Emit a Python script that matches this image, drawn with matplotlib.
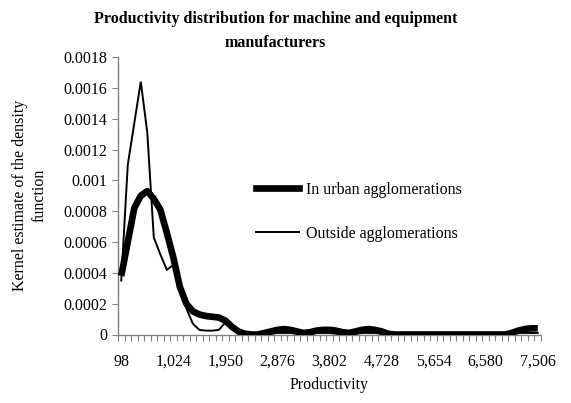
import matplotlib
matplotlib.use("Agg")
import matplotlib.pyplot as plt
from matplotlib.lines import Line2D
from matplotlib.ticker import FixedLocator, FixedFormatter

plt.rcParams['font.family'] = ['Liberation Serif', 'DejaVu Serif']

title = "Productivity distribution for machine and equipment\nmanufacturers"
x_label = "Productivity"
y_label = "Kernel estimate of the density\nfunction"
series_names = ["In urban agglomerations", "Outside agglomerations"]

x_tick_labels = ["98", "1,024", "1,950", "2,876", "3,802", "4,728", "5,654", "6,580", "7,506"]
label_every = 8  # one label every 8 categories
n_categories = 65

y_ticks = [0, 0.0002, 0.0004, 0.0006, 0.0008, 0.001, 0.0012, 0.0014, 0.0016, 0.0018]
y_tick_labels = ["0", "0.0002", "0.0004", "0.0006", "0.0008", "0.001", "0.0012", "0.0014", "0.0016", "0.0018"]

urban = [0.00038, 0.00060, 0.00082, 0.00090, 0.00093, 0.00088, 0.00081, 0.00066, 0.00050, 0.00031,
         0.00020, 0.00015, 0.00013, 0.00012, 0.000115, 0.00011, 0.00009, 0.00005, 0.00002, 0.000005,
         0.0, 0.0, 0.00001, 0.00002, 0.00003, 0.000035, 0.00003, 0.00002, 0.00001, 0.000015,
         0.000025, 0.00003, 0.00003, 0.000025, 0.000015, 0.00001, 0.00002, 0.00003, 0.000035, 0.00003,
         0.00002, 0.000005, 0.0, 0.0, 0.0, 0.0, 0.0, 0.0, 0.0, 0.0,
         0.0, 0.0, 0.0, 0.0, 0.0, 0.0, 0.0, 0.0, 0.0, 0.0,
         0.00001, 0.000025, 0.000035, 0.00004, 0.00004]

outside = [0.00035, 0.00110, 0.00137, 0.00164, 0.00131, 0.00063, 0.00052, 0.00042, 0.00045, 0.00028,
           0.00017, 0.00007, 0.00003, 0.000025, 0.000025, 0.00003, 0.00008, 0.00004, 0.00001, 0.0,
           0.0, 0.0, 0.0, 0.000005, 0.00001, 0.00001, 0.00001, 0.000005, 0.0, 0.000005,
           0.00001, 0.00001, 0.00001, 0.000005, 0.0, 0.0, 0.000005, 0.00001, 0.00001, 0.00001,
           0.000005, 0.0, 0.0, 0.0, 0.0, 0.0, 0.0, 0.0, 0.0, 0.0,
           0.0, 0.0, 0.0, 0.0, 0.0, 0.0, 0.0, 0.0, 0.0, 0.0,
           0.0, 0.00001, 0.00001, 0.00001, 0.00001]

W, H = 571, 403
fig = plt.figure(figsize=(W / 100, H / 100), dpi=100)
left, right, top, bottom = 118, 541, 57, 334.5
ax = fig.add_axes([left / W, 1 - bottom / H, (right - left) / W, (bottom - top) / H])

thick, thin = 4.8, 1.4
xs = list(range(n_categories))
ax.plot(xs, urban, color="black", lw=thick, solid_joinstyle="round", solid_capstyle="butt", zorder=3)
ax.plot(xs, outside, color="black", lw=thin, solid_joinstyle="miter", zorder=4)

ax.set_xlim(-0.5, n_categories - 0.5)
ax.set_ylim(0, 0.0018)

fs = 11.5
ax.xaxis.set_major_locator(FixedLocator(list(range(0, n_categories, label_every))))
ax.xaxis.set_major_formatter(FixedFormatter(x_tick_labels))
ax.xaxis.set_minor_locator(FixedLocator([i - 0.5 for i in range(n_categories + 1)]))
ax.tick_params(axis="x", which="major", length=0, pad=14, labelsize=fs)
ax.tick_params(axis="x", which="minor", length=4, width=0.8, color="#808080", direction="out")
ax.yaxis.set_major_locator(FixedLocator(y_ticks))
ax.yaxis.set_major_formatter(FixedFormatter(y_tick_labels))
ax.tick_params(axis="y", length=4, width=0.8, color="#808080", direction="out", labelsize=fs, pad=4)

for s in ["top", "right"]:
    ax.spines[s].set_visible(False)
for s in ["left", "bottom"]:
    ax.spines[s].set_color("#808080")
    ax.spines[s].set_linewidth(1.0)

ax.set_xlabel(x_label, fontsize=fs, labelpad=5)
fig.text(30 / W, (1 - (top + bottom) / 2 / H), y_label, rotation=90, ha="center", va="center",
         fontsize=fs, linespacing=1.3)
fig.text(0.482, 1 - 31 / H, title, ha="center", va="center", fontsize=11.5, fontweight="bold",
         linespacing=1.6)

handles = [Line2D([], [], color="black", lw=thick), Line2D([], [], color="black", lw=thin)]
ax.legend(handles, series_names, loc="upper left", bbox_to_anchor=(256 / W, 1 - 182 / H),
          bbox_transform=fig.transFigure, frameon=False, fontsize=fs, handlelength=2.7,
          handletextpad=0.45, labelspacing=1.75, borderpad=0, borderaxespad=0)

fig.savefig("out.png", dpi=100)
